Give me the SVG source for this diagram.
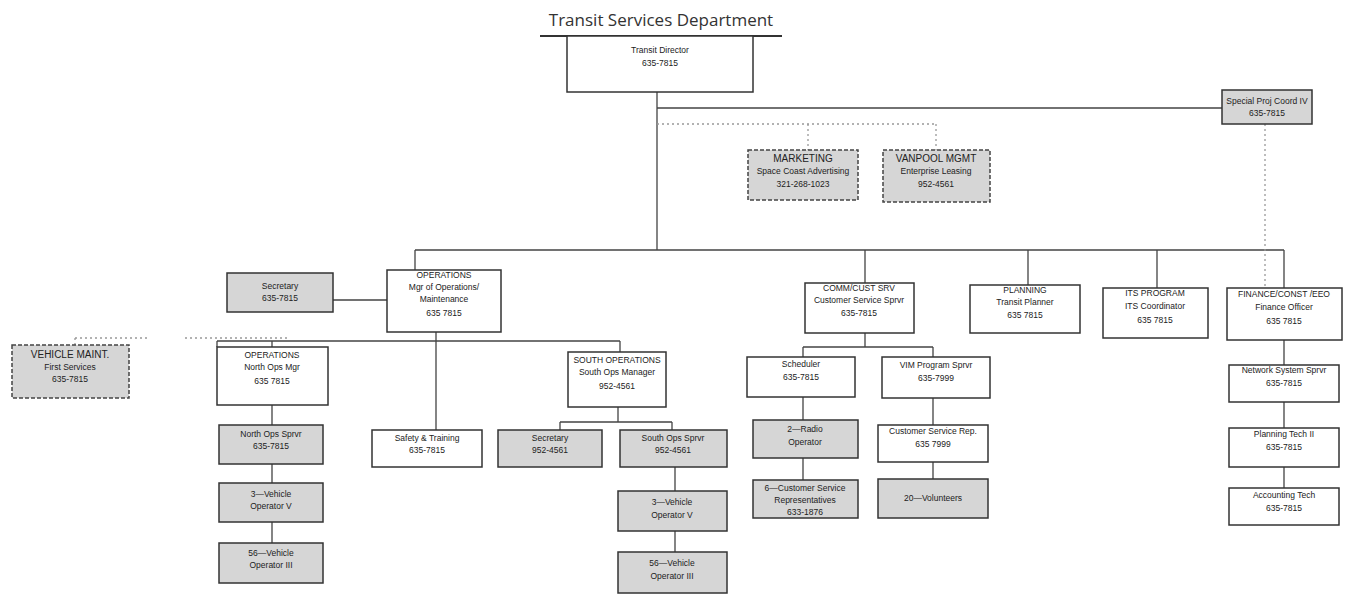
<svg xmlns="http://www.w3.org/2000/svg" width="1351" height="596" viewBox="0 0 1351 596">
<style>
.bx{fill:#fff;stroke:#333;stroke-width:1.5}
.gr{fill:#d6d6d6;stroke:#333;stroke-width:1.5}
.dg{fill:#d6d6d6;stroke:#444;stroke-width:1.5;stroke-dasharray:4,2}
.ln{fill:none;stroke:#444;stroke-width:1.3}
.dt{fill:none;stroke:#999;stroke-width:1.3;stroke-dasharray:2,3}
text{font-family:"Liberation Sans",Arial,sans-serif;font-size:8.5px;fill:#222;text-anchor:middle}
.t{font-family:"Open Sans","Liberation Sans",sans-serif;font-size:17px;fill:#333}
.big{font-size:10px}
</style>
<rect width="1351" height="596" fill="#fff"/>
<text class="t" x="661" y="26">Transit Services Department</text>
<line x1="540" y1="36" x2="782" y2="36" stroke="#333" stroke-width="1.8"/>
<g id="connectors">
<path class="ln" d="M657 92V250M657 108H1222M415 250H1284M415 250V270M865 250V283M1028 250V285M1157 250V288M1284 250V288"/>
<path class="dt" d="M657 124H936M808 124V150M936 124V150M1265 124V288"/>
<path class="ln" d="M333 300H387M436 332V430M217 341H620M272 341V347M217 341V347M620 341V352"/>
<path class="dt" d="M75 338H150M185 338H290M75 338V345"/>
<path class="ln" d="M272 405V425M272 464V483M272 522V543"/>
<path class="ln" d="M618 407V422M560 422H672M560 422V430M672 422V430M675 467V491M675 531V552"/>
<path class="ln" d="M865 333V347M803 347H933M803 347V357M933 347V357M803 397V420M803 458V480M933 398V425M933 462V479"/>
<path class="ln" d="M1284 340V365M1284 402V428M1284 467V488"/>
</g>
<g id="director"><rect class="bx" x="567" y="36" width="186" height="56"/><text x="660" y="53">Transit Director</text><text x="660" y="66">635-7815</text></g>
<g id="special"><rect class="gr" x="1222" y="90" width="90" height="34"/><text x="1267" y="104">Special Proj Coord IV</text><text x="1267" y="116">635-7815</text></g>
<g id="marketing"><rect class="dg" x="748" y="150" width="110" height="50"/><text class="big" x="803" y="162">MARKETING</text><text x="803" y="174">Space Coast Advertising</text><text x="803" y="187">321-268-1023</text></g>
<g id="vanpool"><rect class="dg" x="883" y="150" width="107" height="52"/><text class="big" x="936" y="162">VANPOOL MGMT</text><text x="936" y="174">Enterprise Leasing</text><text x="936" y="187">952-4561</text></g>
<g id="secretary1"><rect class="gr" x="227" y="273" width="106" height="39"/><text x="280" y="289">Secretary</text><text x="280" y="301">635-7815</text></g>
<g id="operations"><rect class="bx" x="387" y="270" width="114" height="62"/><text x="444" y="278">OPERATIONS</text><text x="444" y="290">Mgr of Operations/</text><text x="444" y="302">Maintenance</text><text x="444" y="316">635 7815</text></g>
<g id="vehiclemaint"><rect class="dg" x="12" y="345" width="117" height="53"/><text class="big" x="70" y="358">VEHICLE MAINT.</text><text x="70" y="370">First Services</text><text x="70" y="382">635-7815</text></g>
<g id="northmgr"><rect class="bx" x="217" y="347" width="111" height="58"/><text x="272" y="358">OPERATIONS</text><text x="272" y="370">North Ops Mgr</text><text x="272" y="384">635 7815</text></g>
<g id="northsprvr"><rect class="gr" x="219" y="425" width="104" height="39"/><text x="271" y="437">North Ops Sprvr</text><text x="271" y="449">635-7815</text></g>
<g id="north3"><rect class="gr" x="219" y="483" width="104" height="39"/><text x="271" y="497">3—Vehicle</text><text x="271" y="509">Operator V</text></g>
<g id="north56"><rect class="gr" x="219" y="543" width="104" height="40"/><text x="271" y="556">56—Vehicle</text><text x="271" y="568">Operator III</text></g>
<g id="safety"><rect class="bx" x="372" y="430" width="110" height="37"/><text x="427" y="441">Safety &amp; Training</text><text x="427" y="453">635-7815</text></g>
<g id="southmgr"><rect class="bx" x="568" y="352" width="98" height="55"/><text x="617" y="363">SOUTH OPERATIONS</text><text x="617" y="375">South Ops Manager</text><text x="617" y="389">952-4561</text></g>
<g id="secretary2"><rect class="gr" x="498" y="430" width="104" height="37"/><text x="550" y="441">Secretary</text><text x="550" y="453">952-4561</text></g>
<g id="southsprvr"><rect class="gr" x="620" y="430" width="107" height="37"/><text x="673" y="441">South Ops Sprvr</text><text x="673" y="453">952-4561</text></g>
<g id="south3"><rect class="gr" x="618" y="491" width="109" height="40"/><text x="672" y="505">3—Vehicle</text><text x="672" y="518">Operator V</text></g>
<g id="south56"><rect class="gr" x="618" y="552" width="109" height="41"/><text x="672" y="566">56—Vehicle</text><text x="672" y="579">Operator III</text></g>
<g id="comm"><rect class="bx" x="805" y="283" width="109" height="50"/><text x="859" y="291">COMM/CUST SRV</text><text x="859" y="303">Customer Service Sprvr</text><text x="859" y="316">635-7815</text></g>
<g id="scheduler"><rect class="bx" x="747" y="357" width="108" height="40"/><text x="801" y="367">Scheduler</text><text x="801" y="380">635-7815</text></g>
<g id="vim"><rect class="bx" x="882" y="357" width="108" height="41"/><text x="936" y="368">VIM Program Sprvr</text><text x="936" y="381">635-7999</text></g>
<g id="radio"><rect class="gr" x="753" y="420" width="105" height="38"/><text x="805" y="432">2—Radio</text><text x="805" y="445">Operator</text></g>
<g id="csr6"><rect class="gr" x="753" y="480" width="105" height="38"/><text x="805" y="491">6—Customer Service</text><text x="805" y="503">Representatives</text><text x="805" y="515">633-1876</text></g>
<g id="csrep"><rect class="bx" x="878" y="425" width="110" height="37"/><text x="933" y="434">Customer Service Rep.</text><text x="933" y="447">635 7999</text></g>
<g id="volunteers"><rect class="gr" x="878" y="479" width="110" height="39"/><text x="933" y="501">20—Volunteers</text></g>
<g id="planning"><rect class="bx" x="970" y="285" width="110" height="48"/><text x="1025" y="293">PLANNING</text><text x="1025" y="305">Transit Planner</text><text x="1025" y="318">635 7815</text></g>
<g id="its"><rect class="bx" x="1103" y="288" width="105" height="50"/><text x="1155" y="296">ITS PROGRAM</text><text x="1155" y="309">ITS Coordinator</text><text x="1155" y="323">635 7815</text></g>
<g id="finance"><rect class="bx" x="1227" y="288" width="115" height="52"/><text x="1284" y="297">FINANCE/CONST /EEO</text><text x="1284" y="310">Finance Officer</text><text x="1284" y="324">635 7815</text></g>
<g id="network"><rect class="bx" x="1229" y="365" width="110" height="37"/><text x="1284" y="373">Network System Sprvr</text><text x="1284" y="386">635-7815</text></g>
<g id="plantech"><rect class="bx" x="1229" y="428" width="110" height="39"/><text x="1284" y="437">Planning Tech II</text><text x="1284" y="450">635-7815</text></g>
<g id="accounting"><rect class="bx" x="1229" y="488" width="110" height="37"/><text x="1284" y="498">Accounting Tech</text><text x="1284" y="511">635-7815</text></g>
</svg>
